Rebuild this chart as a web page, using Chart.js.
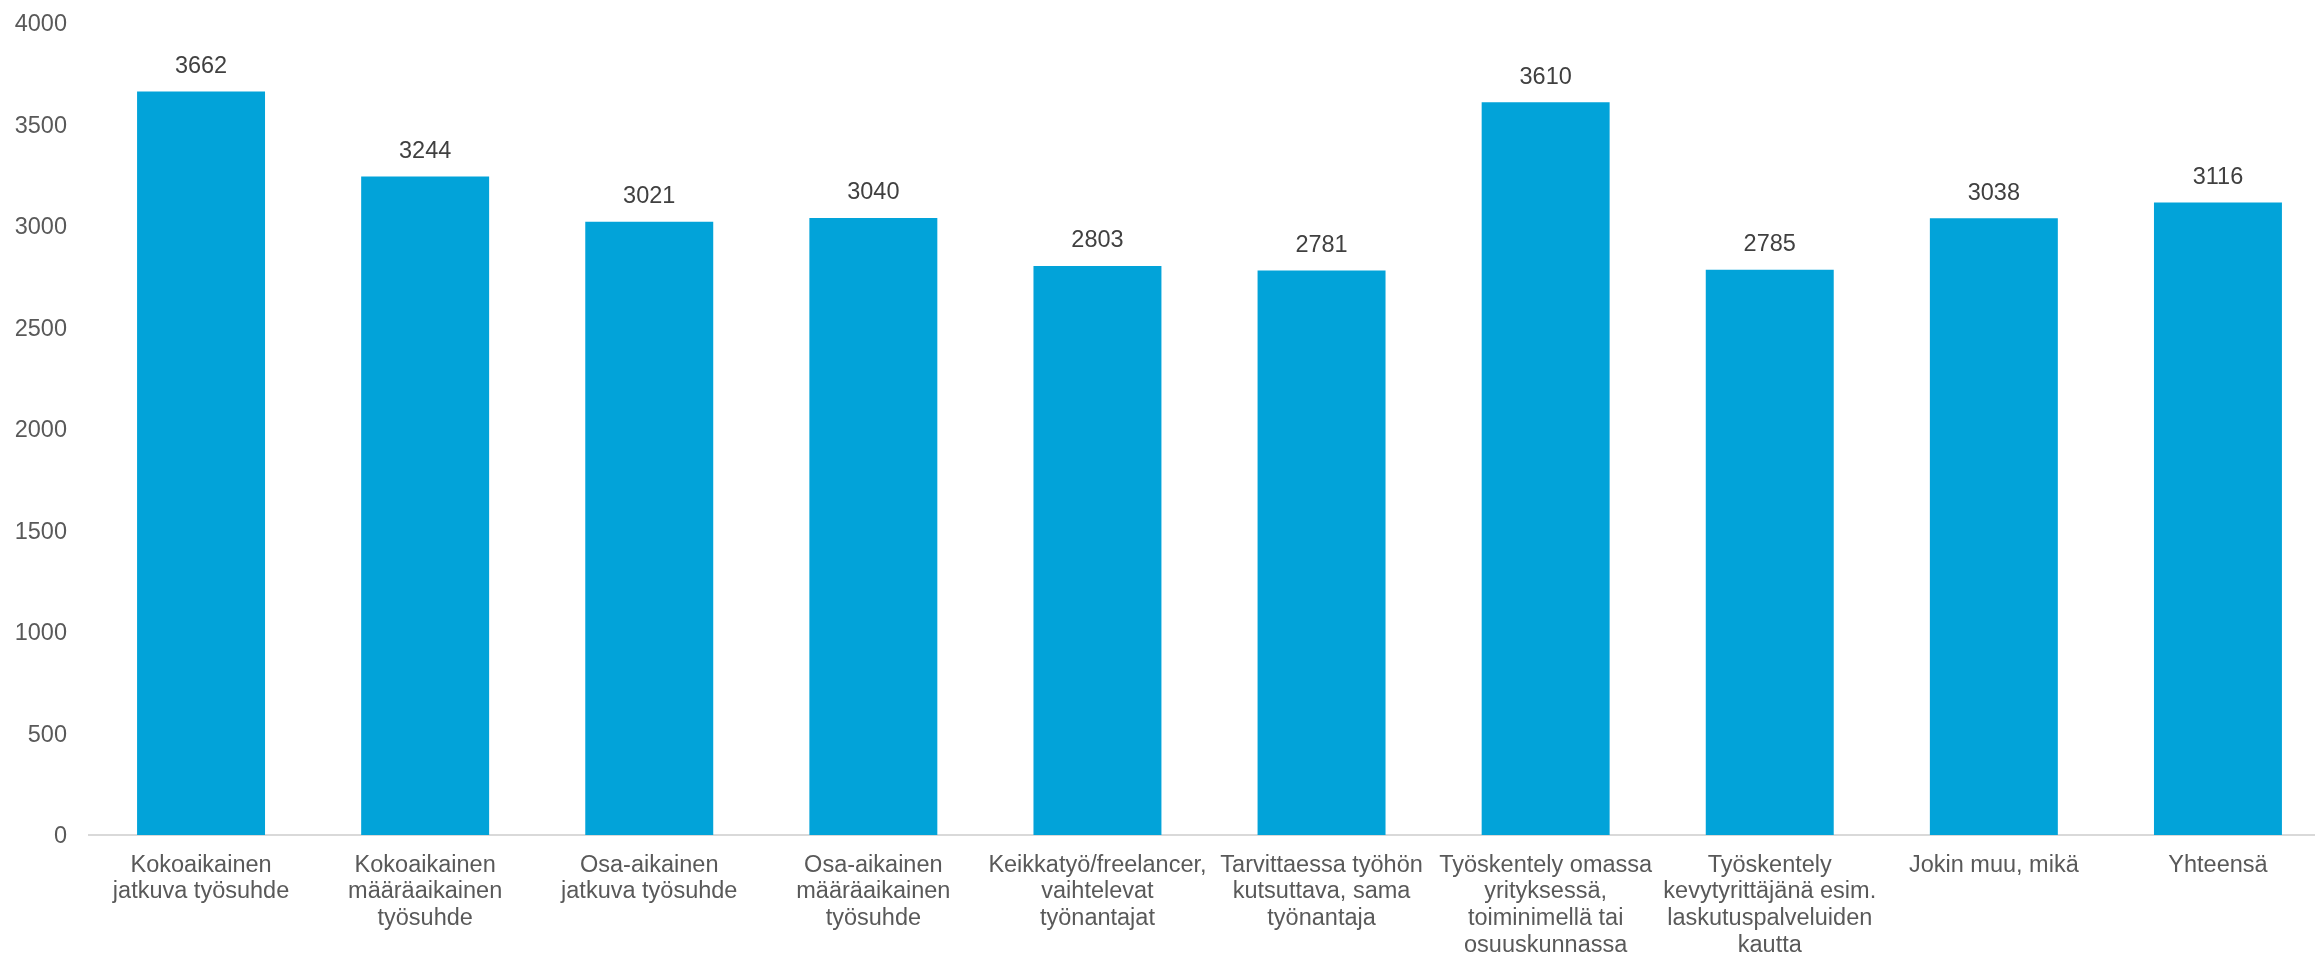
<!DOCTYPE html>
<html lang="fi">
<head>
    <meta charset="UTF-8">
    <title>Työsuhteen muoto</title>
    <script src="https://cdn.jsdelivr.net/npm/chart.js"></script>
    <style>
        html, body { margin: 0; padding: 0; background: #fff; overflow: hidden; }
        #wrap { width: 2315px; height: 957px; overflow: hidden; }
    </style>
</head>
<body>
    <div id="wrap">
        <canvas id="barChart" width="2330" height="957"></canvas>
    </div>

    <script>
        // data
        var categories = [
            ["Kokoaikainen", "jatkuva työsuhde"],
            ["Kokoaikainen", "määräaikainen", "työsuhde"],
            ["Osa-aikainen", "jatkuva työsuhde"],
            ["Osa-aikainen", "määräaikainen", "työsuhde"],
            ["Keikkatyö/freelancer,", "vaihtelevat", "työnantajat"],
            ["Tarvittaessa työhön", "kutsuttava, sama", "työnantaja"],
            ["Työskentely omassa", "yrityksessä,", "toiminimellä tai", "osuuskunnassa"],
            ["Työskentely", "kevytyrittäjänä esim.", "laskutuspalveluiden", "kautta"],
            ["Jokin muu, mikä"],
            ["Yhteensä"]
        ];
        var values = [3662, 3244, 3021, 3040, 2803, 2781, 3610, 2785, 3038, 3116];
        var yTicks = { min: 0, max: 4000, step: 500 };

        var font = "'Liberation Sans', Arial, sans-serif";

        // value labels above bars
        var valueLabels = {
            id: "valueLabels",
            afterDatasetsDraw: function (chart) {
                var ctx = chart.ctx;
                var meta = chart.getDatasetMeta(0);
                ctx.save();
                ctx.font = "23.5px " + font;
                ctx.fillStyle = "#404040";
                ctx.textAlign = "center";
                ctx.textBaseline = "middle";
                meta.data.forEach(function (bar, i) {
                    ctx.fillText(String(values[i]), bar.x, bar.y - 25);
                });
                ctx.restore();
            }
        };

        new Chart(document.getElementById("barChart"), {
            type: "bar",
            data: {
                labels: categories,
                datasets: [{
                    data: values,
                    backgroundColor: "#02A3D9",
                    borderWidth: 0,
                    barPercentage: 0.571,
                    categoryPercentage: 1
                }]
            },
            options: {
                responsive: false,
                animation: false,
                layout: { padding: { top: 23, right: 0, bottom: 0, left: 0 } },
                plugins: {
                    legend: { display: false },
                    tooltip: { enabled: false }
                },
                scales: {
                    x: {
                        grid: { display: false, drawTicks: false },
                        border: { display: true, color: "#D9D9D9", width: 2 },
                        ticks: {
                            autoSkip: false,
                            maxRotation: 0,
                            minRotation: 0,
                            padding: 17,
                            color: "#595959",
                            font: { family: font, size: 23.5, lineHeight: 1.135 }
                        },
                        afterFit: function (scale) {
                            scale.height = 122;
                            scale.paddingLeft = 0;
                            scale.paddingRight = 0;
                        }
                    },
                    y: {
                        min: yTicks.min,
                        max: yTicks.max,
                        grid: { display: false, drawTicks: false },
                        border: { display: false },
                        ticks: {
                            stepSize: yTicks.step,
                            padding: 22,
                            labelOffset: 2,
                            color: "#595959",
                            font: { family: font, size: 23.5 },
                            callback: function (v) { return String(v); }
                        },
                        afterFit: function (scale) {
                            scale.width = 89;
                            scale.paddingTop = 0;
                            scale.paddingBottom = 0;
                        }
                    }
                }
            },
            plugins: [valueLabels]
        });
    </script>
</body>
</html>
